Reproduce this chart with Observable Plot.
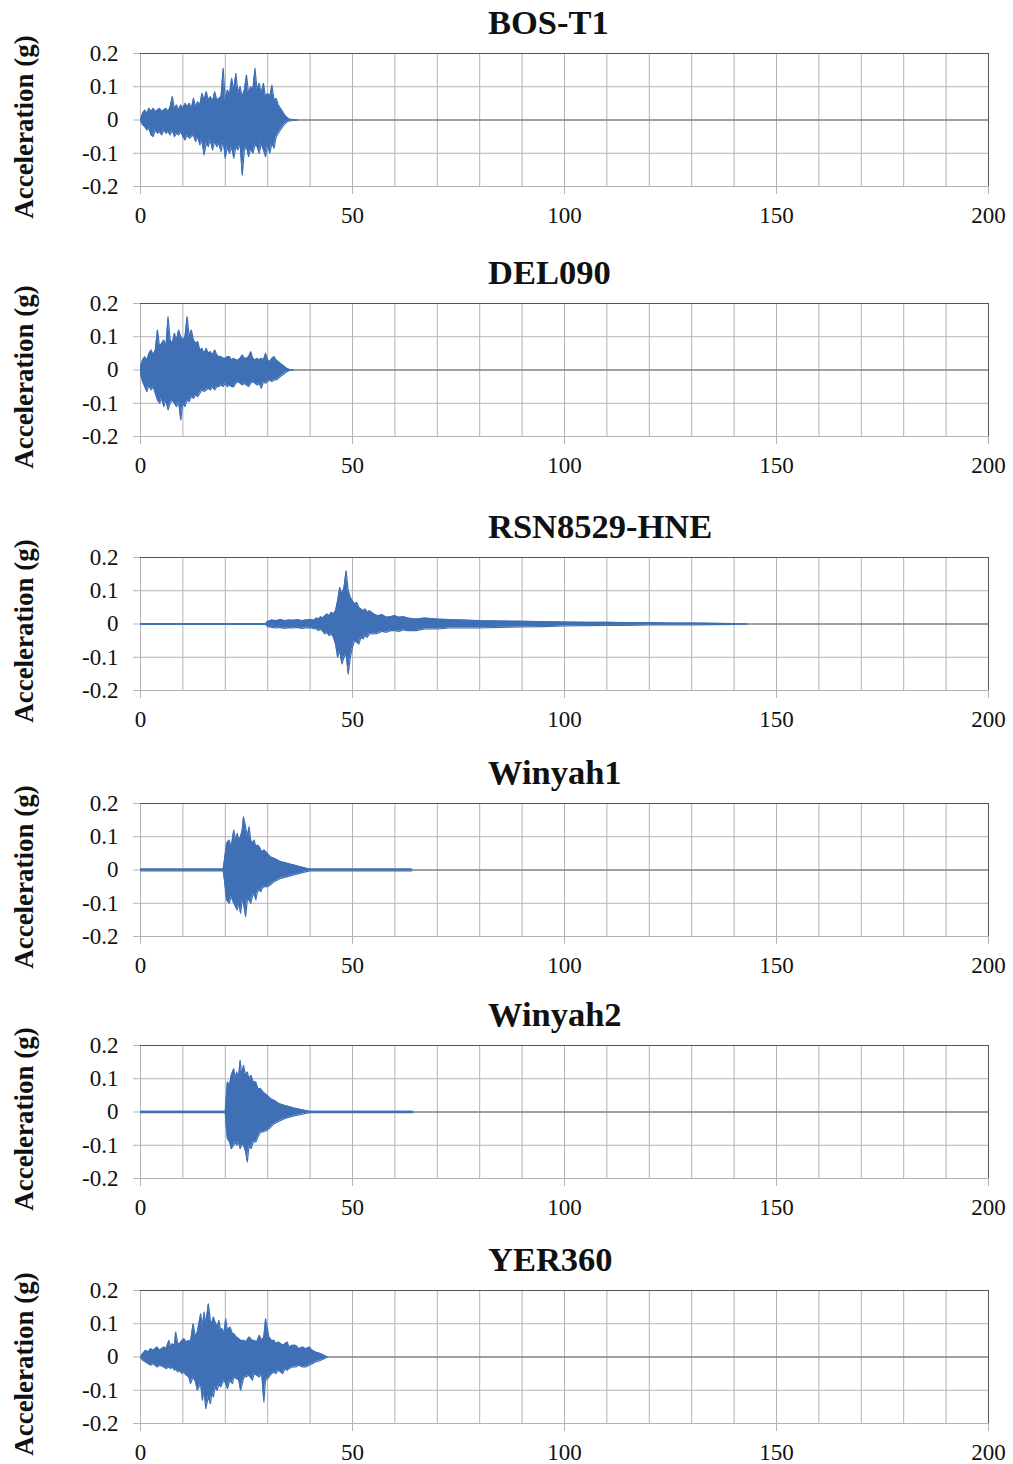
<!DOCTYPE html>
<html><head><meta charset="utf-8">
<script src="https://cdn.jsdelivr.net/npm/d3@7"></script>
<script src="https://cdn.jsdelivr.net/npm/@observablehq/plot@0.6"></script>
<style>
body{margin:0;background:#fff;}
#root{position:relative;width:1013px;height:1464px;font-family:"Liberation Serif","Times New Roman",serif;overflow:hidden;}
.title{position:absolute;font-weight:bold;font-size:34.5px;line-height:normal;white-space:nowrap;color:#111;}
.ylab{position:absolute;font-weight:bold;font-size:27px;line-height:1;white-space:nowrap;transform:translate(-50%,-50%) rotate(-90deg);color:#111;}
svg.panel{position:absolute;left:0;}
</style></head><body><div id="root"></div>
<script>
// ---- Data: [time (s), upper peak (g), lower peak (g)] ----
const bosT1 = [[0,0,0],[0.5,.02,-.015],[1,.03,-.02],[1.5,.02,-.03],[2,.035,-.025],[2.5,.025,-.045],[3,.035,-.05],[3.5,.025,-.03],[4,.03,-.04],[4.5,.035,-.035],[5,.025,-.045],[5.5,.03,-.03],[6,.035,-.04],[6.5,.025,-.035],[7,.04,-.045],[7.5,.07,-.03],[8,.035,-.05],[8.5,.045,-.04],[9,.03,-.045],[9.5,.045,-.035],[10,.035,-.05],[10.5,.05,-.06],[11,.04,-.045],[11.5,.05,-.055],[12,.035,-.05],[12.5,.065,-.045],[13,.04,-.065],[13.5,.055,-.05],[14,.045,-.075],[14.5,.08,-.06],[15,.06,-.105],[15.5,.085,-.07],[16,.06,-.08],[16.5,.07,-.06],[17,.055,-.09],[17.5,.085,-.065],[18,.06,-.08],[18.5,.065,-.07],[19,.07,-.095],[19.5,.155,-.06],[20,.06,-.115],[20.5,.09,-.08],[21,.075,-.1],[21.5,.125,-.08],[22,.09,-.115],[22.5,.14,-.08],[23,.08,-.09],[23.5,.1,-.07],[24,.07,-.165],[24.5,.09,-.09],[25,.135,-.08],[25.5,.08,-.11],[26,.1,-.085],[26.5,.09,-.1],[27,.155,-.075],[27.5,.09,-.08],[28,.11,-.1],[28.5,.08,-.07],[29,.11,-.09],[29.5,.07,-.11],[30,.08,-.075],[30.5,.07,-.1],[31,.105,-.07],[31.5,.06,-.085],[32,.065,-.05],[32.5,.045,-.04],[33,.035,-.03],[33.5,.025,-.02],[34,.015,-.012],[34.5,.008,-.006],[35,.003,-.003],[36,.001,-.001],[37,0,0]];
const del090 = [[0,.01,-.01],[0.5,.03,-.035],[1,.04,-.05],[1.5,.03,-.065],[2,.05,-.045],[2.5,.06,-.06],[3,.045,-.05],[3.5,.06,-.07],[4,.12,-.09],[4.5,.07,-.1],[5,.08,-.085],[5.5,.09,-.11],[6,.07,-.09],[6.5,.16,-.12],[7,.09,-.1],[7.5,.08,-.09],[8,.11,-.1],[8.5,.09,-.11],[9,.12,-.095],[9.5,.1,-.15],[10,.09,-.1],[10.5,.1,-.11],[11,.16,-.09],[11.5,.1,-.095],[12,.12,-.08],[12.5,.09,-.085],[13,.08,-.075],[13.5,.085,-.08],[14,.06,-.07],[14.5,.065,-.06],[15,.05,-.065],[15.5,.065,-.06],[16,.05,-.055],[16.5,.055,-.06],[17,.045,-.05],[17.5,.06,-.06],[18,.045,-.05],[18.5,.04,-.05],[19,.04,-.045],[19.5,.035,-.05],[20,.035,-.04],[20.5,.04,-.05],[21,.04,-.045],[21.5,.03,-.05],[22,.035,-.05],[22.5,.03,-.04],[23,.03,-.035],[23.5,.035,-.04],[24,.045,-.045],[24.5,.035,-.04],[25,.035,-.045],[25.5,.04,-.05],[26,.055,-.04],[26.5,.035,-.035],[27,.03,-.04],[27.5,.035,-.045],[28,.03,-.04],[28.5,.035,-.055],[29,.03,-.035],[29.5,.05,-.04],[30,.03,-.035],[30.5,.025,-.03],[31,.035,-.035],[31.5,.04,-.03],[32,.03,-.03],[32.5,.025,-.025],[33,.02,-.02],[33.5,.015,-.015],[34,.01,-.01],[34.5,.005,-.005],[35,.002,-.002],[36,0,0]];
const rsn8529 = [[0,.001,-.001],[29.5,.001,-.001],[30,.008,-.008],[31,.012,-.01],[32,.01,-.012],[33,.013,-.01],[34,.01,-.013],[35,.012,-.011],[36,.011,-.012],[37,.013,-.01],[38,.01,-.013],[39,.012,-.012],[40,.013,-.011],[41,.012,-.014],[41.5,.018,-.015],[42,.015,-.02],[42.5,.022,-.015],[43,.018,-.022],[43.5,.025,-.03],[44,.03,-.025],[44.5,.025,-.035],[45,.035,-.03],[45.5,.03,-.04],[46,.04,-.06],[46.5,.07,-.1],[47,.11,-.08],[47.5,.09,-.12],[48,.11,-.1],[48.5,.16,-.09],[49,.1,-.15],[49.5,.08,-.1],[50,.07,-.07],[50.5,.06,-.05],[51,.065,-.055],[51.5,.05,-.06],[52,.045,-.04],[52.5,.04,-.045],[53,.045,-.035],[53.5,.035,-.04],[54,.04,-.03],[55,.03,-.03],[56,.025,-.028],[57,.028,-.022],[58,.02,-.025],[59,.022,-.02],[60,.025,-.02],[61,.02,-.022],[62,.022,-.018],[63,.018,-.02],[65,.015,-.02],[67,.018,-.015],[70,.015,-.015],[73,.013,-.012],[76,.012,-.012],[80,.01,-.012],[85,.009,-.01],[90,.008,-.009],[95,.007,-.008],[100,.006,-.006],[105,.005,-.005],[110,.005,-.004],[115,.004,-.004],[120,.004,-.003],[125,.003,-.003],[130,.003,-.003],[135,.002,-.002],[140,.001,-.001],[143,0,0]];
const winyah1 = [[0,.003,-.003],[19.5,.003,-.003],[19.8,.03,-.03],[20.3,.08,-.09],[20.9,.09,-.1],[21.4,.07,-.08],[22,.12,-.1],[22.4,.09,-.11],[22.8,.11,-.12],[23.2,.09,-.1],[23.6,.1,-.13],[24,.12,-.09],[24.3,.16,-.1],[24.8,.13,-.14],[25.2,.1,-.09],[25.6,.13,-.09],[26,.09,-.1],[26.4,.08,-.08],[26.8,.09,-.07],[27.2,.07,-.09],[27.6,.075,-.065],[28,.07,-.06],[28.4,.06,-.065],[28.7,.055,-.055],[29.2,.06,-.05],[29.9,.05,-.05],[30.6,.04,-.045],[31.5,.035,-.035],[32.3,.03,-.03],[33.1,.025,-.025],[34.6,.02,-.02],[36.2,.015,-.015],[38.2,.008,-.008],[39.4,.004,-.004],[40,.003,-.003],[64,.003,-.003]];
const winyah2 = [[0,.002,-.002],[20,.002,-.002],[20.2,.04,-.04],[20.5,.09,-.08],[21,.08,-.09],[21.4,.11,-.11],[22,.13,-.1],[22.4,.1,-.09],[22.7,.12,-.1],[23.1,.1,-.09],[23.5,.155,-.11],[23.9,.11,-.1],[24.3,.14,-.1],[24.8,.11,-.12],[25.2,.12,-.15],[25.6,.1,-.1],[26.1,.11,-.11],[26.6,.09,-.09],[27.2,.09,-.09],[27.7,.07,-.075],[28.3,.07,-.06],[28.9,.06,-.06],[29.9,.05,-.055],[30.7,.04,-.045],[31.5,.035,-.035],[32.7,.025,-.028],[33.9,.02,-.02],[36.2,.012,-.012],[39,.004,-.004],[40,.002,-.002],[64.2,.002,-.002]];
const yer360 = [[0,0,0],[0.5,.01,-.01],[1.2,.02,-.015],[1.8,.015,-.02],[2.4,.025,-.025],[3,.02,-.02],[3.9,.03,-.03],[4.5,.02,-.025],[5.5,.03,-.03],[6,.025,-.035],[6.7,.05,-.03],[7.1,.03,-.035],[7.5,.04,-.03],[8,.035,-.04],[8.3,.075,-.035],[8.8,.04,-.045],[9.2,.04,-.04],[9.8,.05,-.05],[10.2,.055,-.045],[10.8,.045,-.055],[11.4,.05,-.06],[11.8,.045,-.08],[12.4,.1,-.06],[13,.06,-.075],[13.4,.075,-.1],[14.2,.13,-.08],[14.6,.09,-.13],[15,.135,-.1],[15.4,.1,-.155],[16,.16,-.12],[16.5,.11,-.14],[16.8,.1,-.11],[17.2,.12,-.12],[17.6,.105,-.09],[18.1,.09,-.1],[18.5,.11,-.08],[18.9,.08,-.09],[19.3,.085,-.08],[19.7,.07,-.07],[20.1,.115,-.08],[20.5,.08,-.095],[21.1,.09,-.07],[21.7,.07,-.08],[22,.07,-.06],[22.6,.06,-.065],[23.2,.055,-.07],[23.6,.05,-.1],[24.4,.05,-.06],[24.8,.045,-.06],[25.6,.06,-.055],[26.4,.05,-.07],[26.8,.05,-.05],[27.4,.045,-.055],[28,.065,-.06],[28.6,.05,-.05],[29.1,.06,-.135],[29.5,.115,-.07],[30.3,.06,-.06],[30.9,.05,-.05],[31.5,.05,-.045],[31.9,.04,-.05],[32.5,.045,-.04],[33.1,.04,-.045],[33.5,.035,-.05],[34.1,.04,-.035],[34.6,.045,-.04],[35,.03,-.035],[35.8,.035,-.03],[36.6,.035,-.03],[37.4,.025,-.025],[38.2,.03,-.03],[39,.025,-.03],[39.8,.03,-.025],[40.5,.02,-.02],[41.3,.015,-.015],[42.5,.01,-.01],[43.3,.005,-.005],[44,0,0]];

const names = ["BOS-T1","DEL090","RSN8529-HNE","Winyah1","Winyah2","YER360"];
const records = [bosT1, del090, rsn8529, winyah1, winyah2, yer360];
const xTicks = [0,50,100,150,200];
const xGridLines = [0,10,20,30,40,50,60,70,80,90,100,110,120,130,140,150,160,170,180,190,200];
const yTicks = [-0.2,-0.1,0,0.1,0.2];
const yLabel = "Acceleration (g)";

// ---- Layout ----
const panelTops = [53,303,557,803,1045,1290];
const PH = 133, MT = 4, MB = 44;
const BLUE = "#3f70b5";
const FONT = "'Liberation Serif','Times New Roman',serif";
const root = document.getElementById("root");

records.forEach((rec, i) => {
  const data = rec.map(([t,hi,lo]) => ({t, hi, lo}));
  const svg = Plot.plot({
    width: 1013, height: MT + PH + MB,
    marginLeft: 140, marginRight: 25, marginTop: MT, marginBottom: MB,
    style: {fontFamily: FONT, fontSize: "23px", color: "#111", background: "transparent", overflow: "visible"},
    x: {domain: [0,200]},
    y: {domain: [-0.2,0.2]},
    marks: [
      Plot.ruleX(xGridLines, {stroke: "#b3b3b3", strokeWidth: 1}),
      Plot.ruleY([-0.2,-0.1,0.1], {stroke: "#b3b3b3", strokeWidth: 1}),
      Plot.ruleY([0], {stroke: "#808080", strokeWidth: 1.5}),
      Plot.ruleY([0.2], {stroke: "#555", strokeWidth: 1.2}),
      Plot.ruleX([200], {stroke: "#555", strokeWidth: 1}),
      Plot.axisX({ticks: xTicks, tickSize: 8, tickPadding: 12, stroke: "#b3b3b3", fill: "#111", fontSize: 23, label: null}),
      Plot.axisY({ticks: yTicks, tickSize: 7, tickPadding: 15, stroke: "#b3b3b3", fill: "#111", fontSize: 23, label: null,
                  tickFormat: d => d === 0 ? "0" : String(d)}),
      Plot.areaY(data, {x: "t", y1: "lo", y2: "hi", fill: BLUE}),
      Plot.lineY(data, {x: "t", y: "hi", stroke: BLUE, strokeWidth: 1.2}),
      Plot.lineY(data, {x: "t", y: "lo", stroke: BLUE, strokeWidth: 1.2})
    ]
  });
  svg.classList.add("panel");
  svg.style.top = (panelTops[i] - MT) + "px";
  root.appendChild(svg);

  const title = document.createElement("div");
  title.className = "title";
  title.textContent = names[i];
  title.style.left = "488px";
  title.style.top = (panelTops[i] - 19 - 30.7) + "px";
  root.appendChild(title);

  const yl = document.createElement("div");
  yl.className = "ylab";
  yl.textContent = yLabel;
  yl.style.left = "24px";
  yl.style.top = (panelTops[i] + PH/2 + 7.5) + "px";
  root.appendChild(yl);
});
</script>
</body></html>
